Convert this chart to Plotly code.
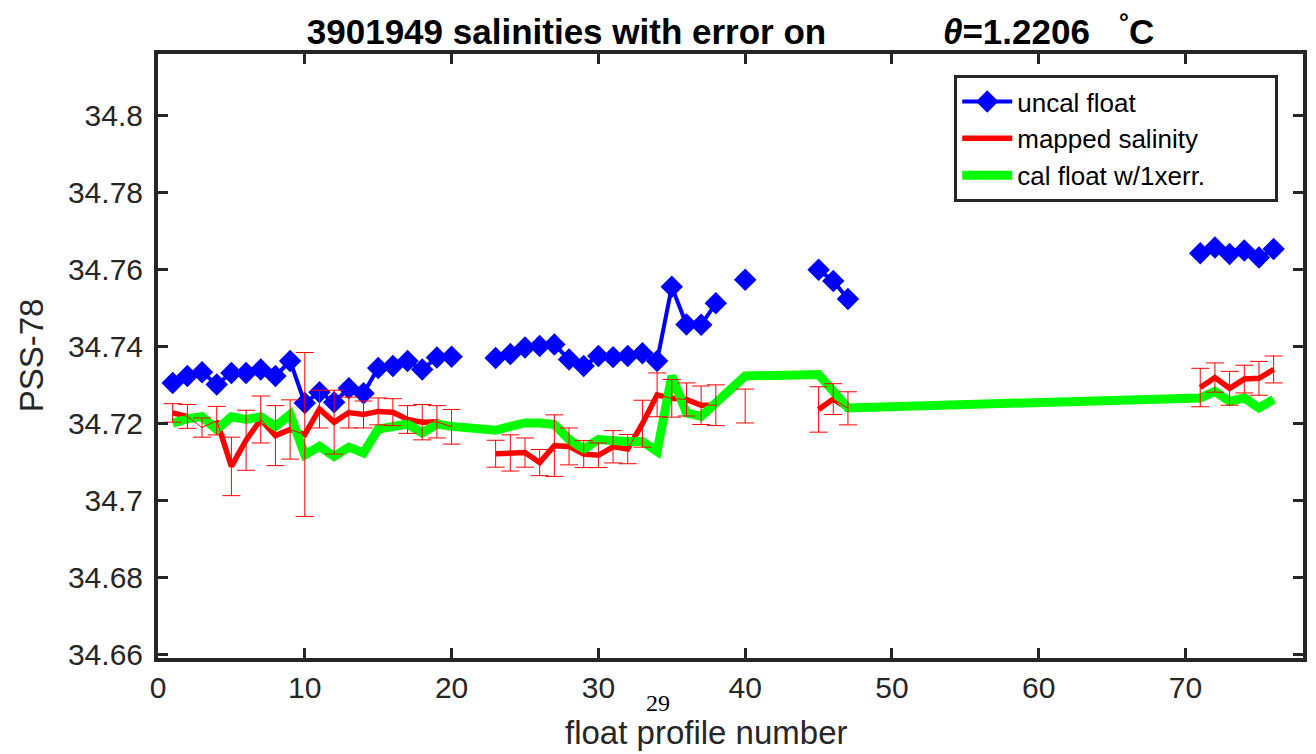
import plotly.graph_objects as go

# ---------------- data ----------------
profiles = [1, 2, 3, 4, 5, 6, 7, 8, 9, 10, 11, 12, 13, 14, 15, 16, 17, 18, 19, 20,
            23, 24, 25, 26, 27, 28, 29, 30, 31, 32, 33, 34, 35, 36, 37, 38,
            40, 45, 46, 47, 71, 72, 73, 74, 75, 76]

uncal_float = [34.7305, 34.7323, 34.7333, 34.7301, 34.7331, 34.7331, 34.7340, 34.7323,
               34.7362, 34.7253, 34.7281, 34.7255, 34.7291, 34.7278, 34.7344, 34.7349,
               34.7362, 34.7340, 34.7371, 34.7373,
               34.7370, 34.7380, 34.7397, 34.7401, 34.7405, 34.7366, 34.7349, 34.7375,
               34.7372, 34.7375, 34.7382, 34.7362, 34.7555, 34.7457, 34.7456, 34.7512,
               34.7573, 34.7599, 34.7570, 34.7523,
               34.7642, 34.7657, 34.7640, 34.7649, 34.7631, 34.7653]

mapped_salinity = [34.7227, 34.7218, 34.7189, 34.7207, 34.7088, 34.7156, 34.7210, 34.7168,
                   34.7184, 34.7171, 34.7237, 34.7203, 34.7228, 34.7223, 34.7231, 34.7229,
                   34.7210, 34.7203, 34.7204, 34.7191,
                   34.7121, 34.7123, 34.7124, 34.7098, 34.7142, 34.7140, 34.7120, 34.7117,
                   34.7139, 34.7133, 34.7199, 34.7274, 34.7265, 34.7262, 34.7247, 34.7247,
                   34.7245, 34.7236, 34.7263, 34.7239,
                   34.7293, 34.7319, 34.7291, 34.7315, 34.7317, 34.7340]

mapped_error = [0.0024, 0.0031, 0.0025, 0.0037, 0.0076, 0.0078, 0.0061, 0.0078,
                0.0077, 0.0213, 0.0049, 0.0083, 0.0040, 0.0035, 0.0035, 0.0035,
                0.0036, 0.0046, 0.0042, 0.0045,
                0.0035, 0.0047, 0.0038, 0.0034, 0.0080, 0.0048, 0.0035, 0.0032,
                0.0042, 0.0038, 0.0061, 0.0057, 0.0049, 0.0043, 0.0050, 0.0053,
                0.0044, 0.0059, 0.0040, 0.0043,
                0.0050, 0.0038, 0.0044, 0.0036, 0.0044, 0.0035]

cal_float = [34.7200, 34.7212, 34.7217, 34.7184, 34.7217, 34.7210, 34.7217, 34.7192,
             34.7223, 34.7118, 34.7140, 34.7114, 34.7138, 34.7123, 34.7185, 34.7190,
             34.7198, 34.7175, 34.7198, 34.7192,
             34.7182, 34.7192, 34.7201, 34.7201, 34.7197, 34.7158, 34.7133, 34.7158,
             34.7153, 34.7153, 34.7153, 34.7127, 34.7323, 34.7227, 34.7218, 34.7253,
             34.7323, 34.7327, 34.7279, 34.7240,
             34.7266, 34.7283, 34.7257, 34.7266, 34.7240, 34.7262]

mapped_line_missing = [3]   # profile where the thick mapped line is absent

x_ticks = [0, 10, 20, 30, 40, 50, 60, 70]
y_ticks = [34.66, 34.68, 34.70, 34.72, 34.74, 34.76, 34.78, 34.80]
y_tick_labels = ["34.66", "34.68", "34.7", "34.72", "34.74", "34.76", "34.78", "34.8"]


def with_gaps(xs, ys, skip=()):
    """Insert None where profile numbers are not consecutive (line breaks)."""
    gx, gy = [], []
    prev = None
    for xv, yv in zip(xs, ys):
        if prev is not None and xv - prev > 1:
            gx.append(prev + 1)
            gy.append(None)
        gx.append(xv)
        gy.append(None if xv in skip else yv)
        prev = xv
    return gx, gy


bx, by = with_gaps(profiles, uncal_float)
rx, ry = with_gaps(profiles, mapped_salinity, skip=mapped_line_missing)
ex, ey = with_gaps(profiles, mapped_salinity)
_, ee = with_gaps(profiles, mapped_error)

FONT = "Liberation Sans, Arial, Helvetica, sans-serif"
AXC = "#262626"
PAD = "\u00a0"

fig = go.Figure()

fig.add_trace(go.Scatter(
    x=bx, y=by, mode="lines+markers", name="uncal float",
    line=dict(color="#0000ff", width=4),
    marker=dict(symbol="diamond", size=14, color="#0000ff",
                line=dict(color="#0000ff", width=3)),
    connectgaps=False))

fig.add_trace(go.Scatter(
    x=rx, y=ry, mode="lines", name="mapped salinity",
    line=dict(color="#ff0000", width=5.5), connectgaps=False))

fig.add_trace(go.Scatter(
    x=profiles, y=cal_float, mode="lines", name="cal float w/1xerr." + PAD * 9,
    line=dict(color="#00ff00", width=9)))

fig.add_trace(go.Scatter(
    x=ex, y=ey, mode="lines", showlegend=False,
    line=dict(color="#ff0000", width=1), connectgaps=False,
    error_y=dict(type="data", array=ee, visible=True, color="#ff0000",
                 thickness=1, width=9)))

axis_common = dict(
    showgrid=False, zeroline=False, showline=True, linecolor=AXC, linewidth=4,
    mirror="ticks", ticks="inside", ticklen=10, tickwidth=3, tickcolor=AXC,
    tickfont=dict(family=FONT, size=30, color=AXC))

fig.update_xaxes(range=[0, 78], tickvals=x_ticks, **axis_common)
fig.update_yaxes(range=[34.659, 34.816], tickvals=y_ticks, ticktext=y_tick_labels,
                 ticklabelstandoff=5, **axis_common)

fig.update_layout(
    width=1316, height=754,
    margin=dict(l=158, r=9, t=54, b=96),
    paper_bgcolor="white", plot_bgcolor="white",
    title=dict(
        text=("<b>3901949 salinities with error on" + PAD * 12 +
              "<i>θ</i>=1.2206" + PAD * 3 + "<sup>°</sup>C</b>"),
        x=0.5, xref="paper", xanchor="center",
        y=1 - 32 / 754, yref="container", yanchor="middle",
        font=dict(family=FONT, size=35, color="black")),
    legend=dict(
        x=0.6954, y=0.965, xanchor="left", yanchor="top",
        bgcolor="white", bordercolor=AXC, borderwidth=3,
        font=dict(family=FONT, size=26, color="black"),
        itemwidth=50, tracegroupgap=0),
    annotations=[
        dict(text="float profile number", xref="paper", yref="paper",
             x=0.4787, y=-0.124, xanchor="center", yanchor="middle",
             showarrow=False, font=dict(family=FONT, size=33, color=AXC)),
        dict(text="PSS-78", xref="paper", yref="paper",
             x=-0.1097, y=0.5017, xanchor="center", yanchor="middle",
             textangle=-90, showarrow=False,
             font=dict(family=FONT, size=33, color=AXC)),
        dict(text="29", xref="paper", yref="paper",
             x=0.4369, y=-0.0745, xanchor="center", yanchor="middle",
             showarrow=False,
             font=dict(family="Liberation Serif, Times New Roman, serif",
                       size=24, color="black")),
    ],
)

fig.write_html("out.html")
